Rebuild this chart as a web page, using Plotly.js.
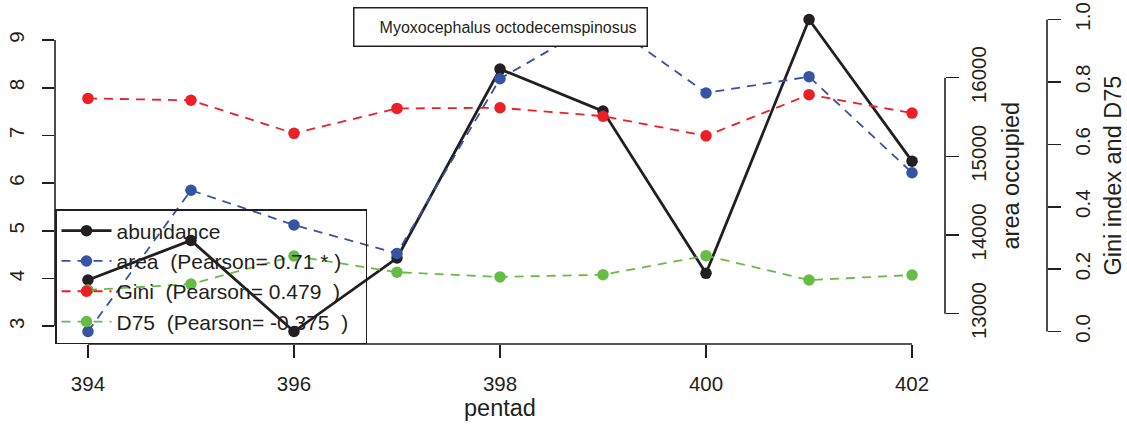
<!DOCTYPE html>
<html>
<head>
<meta charset="utf-8">
<script src="https://cdn.plot.ly/plotly-3.0.1.min.js"></script>
<style>html,body{margin:0;padding:0;background:#fff;}#chart{width:1127px;height:427px;}</style>
</head>
<body>
<div id="chart"></div>
<script>
// ---- data ----
const pentad = [394, 395, 396, 397, 398, 399, 400, 401, 402];
const abundance = [3.97, 4.80, 2.89, 4.43, 8.39, 7.51, 4.11, 9.43, 6.46];
const area = [12773, 14569, 14127, 13766, 15987, 16740, 15806, 16013, 14792];
const gini = [0.747, 0.741, 0.635, 0.715, 0.717, 0.690, 0.627, 0.759, 0.700];
const d75 = [0.133, 0.152, 0.242, 0.190, 0.175, 0.182, 0.243, 0.165, 0.181];

const xTicks = [394, 396, 398, 400, 402];
const abTicks = [3, 4, 5, 6, 7, 8, 9];
const areaTicks = [13000, 14000, 15000, 16000];
const giniTicks = [0, 0.2, 0.4, 0.6, 0.8, 1.0];
const giniTickText = ["0.0", "0.2", "0.4", "0.6", "0.8", "1.0"];

const seriesNames = [
  "abundance",
  "area\u00a0 (Pearson= 0.71 * )",
  "Gini\u00a0 (Pearson= 0.479\u00a0 )",
  "D75\u00a0 (Pearson= -0.375\u00a0 )\u00a0\u00a0"
];
const speciesTitle = "Myoxocephalus octodecemspinosus";

// ---- helpers (R-style 4% axis extension) ----
function rRange(lo, hi) { const p = (hi - lo) * 0.04; return [lo - p, hi + p]; }
const minOf = a => Math.min.apply(null, a), maxOf = a => Math.max.apply(null, a);

const FONT = "Liberation Sans, Arial, Helvetica, sans-serif";
const FS = 20.5, FS_LEG = 21, FS_TITLE = 23.5;
const INK = "#231f20";
const C_BLACK = "#231f20", C_BLUE = "#3653a4", C_RED = "#ec1f27", C_GREEN = "#67bc45";
const DASH = "9px,7px";

const traces = [
  {x: pentad, y: abundance, name: seriesNames[0], type: "scatter", mode: "lines+markers",
   line: {color: C_BLACK, width: 2.8}, marker: {color: C_BLACK, size: 11.5}, yaxis: "y"},
  {x: pentad, y: area, name: seriesNames[1], type: "scatter", mode: "lines+markers",
   line: {color: C_BLUE, width: 1.8, dash: DASH}, marker: {color: C_BLUE, size: 11.5}, yaxis: "y2"},
  {x: pentad, y: gini, name: seriesNames[2], type: "scatter", mode: "lines+markers",
   line: {color: C_RED, width: 1.8, dash: DASH}, marker: {color: C_RED, size: 11.5}, yaxis: "y3"},
  {x: pentad, y: d75, name: seriesNames[3], type: "scatter", mode: "lines+markers",
   line: {color: C_GREEN, width: 1.8, dash: DASH}, marker: {color: C_GREEN, size: 11.5}, yaxis: "y3"}
];

const L = 55, R = 80, T = 7, B = 83, W = 1127, H = 427;
const plotW = W - L - R;           // paper width
const xDomEnd = 890 / plotW;       // first right axis sits here

const tickCommon = {ticks: "outside", ticklen: 13, tickwidth: 1.6, tickcolor: INK,
  showgrid: false, zeroline: false, showline: false,
  tickfont: {family: FONT, size: FS, color: INK}};

const layout = {
  width: W, height: H,
  margin: {l: L, r: R, t: T, b: B, pad: 0},
  paper_bgcolor: "#fff", plot_bgcolor: "#fff",
  font: {family: FONT, color: INK},
  showlegend: true,
  hovermode: false,
  xaxis: Object.assign({}, tickCommon, {
    domain: [0, xDomEnd], range: rRange(minOf(pentad), maxOf(pentad)),
    tickvals: xTicks, ticklabelstandoff: 8
  }),
  yaxis: Object.assign({}, tickCommon, {
    range: rRange(minOf(abundance), maxOf(abundance)), tickvals: abTicks,
    tickangle: -90, ticklen: 12.5, ticklabelstandoff: 9
  }),
  yaxis2: Object.assign({}, tickCommon, {
    overlaying: "y", side: "right", anchor: "x",
    range: rRange(minOf(area), maxOf(area)), tickvals: areaTicks, tickformat: "d",
    tickangle: -90, ticklabelstandoff: 2
  }),
  yaxis3: Object.assign({}, tickCommon, {
    overlaying: "y", side: "right", anchor: "free", position: 1,
    range: rRange(0, 1), tickvals: giniTicks, ticktext: giniTickText,
    tickangle: -90, ticklabelstandoff: 4
  }),
  legend: {
    x: 0, y: 0, xanchor: "left", yanchor: "bottom", xref: "paper", yref: "paper",
    bgcolor: "rgba(255,255,255,0)", bordercolor: INK, borderwidth: 1.5,
    font: {family: FONT, size: FS_LEG, color: INK}, itemwidth: 50, tracegroupgap: 0
  },
  shapes: [
    {type: "line", xref: "x", yref: "paper", x0: xTicks[0], x1: xTicks[xTicks.length - 1], y0: 0, y1: 0,
     line: {color: INK, width: 1.6}},
    {type: "line", xref: "paper", yref: "y", x0: 0, x1: 0, y0: abTicks[0], y1: abTicks[abTicks.length - 1],
     line: {color: INK, width: 1.6}},
    {type: "line", xref: "paper", yref: "y2", x0: xDomEnd, x1: xDomEnd, y0: areaTicks[0], y1: areaTicks[areaTicks.length - 1],
     line: {color: INK, width: 1.6}},
    {type: "line", xref: "paper", yref: "y3", x0: 1, x1: 1, y0: giniTicks[0], y1: giniTicks[giniTicks.length - 1],
     line: {color: INK, width: 1.6}}
  ],
  annotations: [
    {text: "pentad", xref: "x", yref: "paper", x: 398, y: 0, yanchor: "middle", yshift: -64,
     showarrow: false, font: {family: FONT, size: FS_TITLE, color: INK}},
    {text: "area occupied", xref: "paper", yref: "paper", x: xDomEnd, y: 0.5, xshift: 65,
     xanchor: "center", yanchor: "middle",
     textangle: -90, showarrow: false, font: {family: FONT, size: FS_TITLE, color: INK}},
    {text: "Gini index and D75", xref: "paper", yref: "paper", x: 1, y: 0.5, xshift: 65,
     xanchor: "center", yanchor: "middle",
     textangle: -90, showarrow: false, font: {family: FONT, size: FS_TITLE, color: INK}},
    {text: speciesTitle + "\u00a0\u00a0", xref: "x", yref: "paper", x: 398, y: 1,
     xanchor: "center", yanchor: "top", showarrow: false, align: "right",
     width: 290, height: 35, bgcolor: "#fff", bordercolor: INK, borderwidth: 1.5, borderpad: 1,
     font: {family: FONT, size: 16, color: INK}}
  ]
};

Plotly.newPlot("chart", traces, layout, {displayModeBar: false, staticPlot: true});
</script>
</body>
</html>
